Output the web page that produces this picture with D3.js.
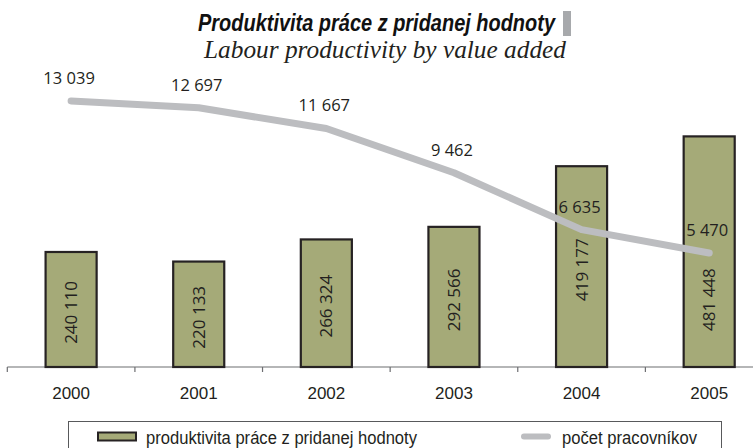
<!DOCTYPE html>
<html>
<head>
<meta charset="utf-8">
<script src="https://cdn.jsdelivr.net/npm/d3@7"></script>
<style>
  body { margin: 0; background: #fff; }
  svg { display: block; }
</style>
</head>
<body>
<svg id="chart" width="753" height="448"></svg>
<script>
const years = ["2000", "2001", "2002", "2003", "2004", "2005"];
const productivity = [240110, 220133, 266324, 292566, 419177, 481448];
const workers = [13039, 12697, 11667, 9462, 6635, 5470];

const titleText = "Produktivita práce z pridanej hodnoty";
const subtitleText = "Labour productivity by value added";
const legendBar = "produktivita práce z pridanej hodnoty";
const legendLine = "počet pracovníkov";

const width = 753;
const height = 448;
const baseline = 367;

const fmt = (v) => d3.format(",")(v).replace(/,/g, " ");

const svg = d3.select("#chart");

const x = d3.scaleBand()
  .domain(years)
  .range([7.3, 773])
  .paddingInner(0.6)
  .paddingOuter(0.3);

const y = d3.scaleLinear()
  .domain([0, 500000])
  .range([baseline, 127.5]);

const y2 = d3.scaleLinear()
  .domain([0, 18000])
  .range([363, 1.2]);

// title
svg.append("text")
  .attr("x", 198)
  .attr("y", 31)
  .attr("textLength", 357)
  .attr("lengthAdjust", "spacingAndGlyphs")
  .style("font-family", "Liberation Sans, Arial, sans-serif")
  .style("font-weight", "bold")
  .style("font-style", "italic")
  .style("font-size", "23px")
  .attr("fill", "#111")
  .text(titleText);

svg.append("rect")
  .attr("x", 563)
  .attr("y", 11)
  .attr("width", 8)
  .attr("height", 25)
  .attr("fill", "#a7a9ac");

svg.append("text")
  .attr("x", 204)
  .attr("y", 58)
  .attr("textLength", 362)
  .attr("lengthAdjust", "spacingAndGlyphs")
  .style("font-family", "Liberation Serif, Times New Roman, serif")
  .style("font-style", "italic")
  .style("font-size", "25px")
  .attr("fill", "#231f20")
  .text(subtitleText);

// x axis
const xAxis = (g) =>
  g.attr("transform", `translate(0,${baseline})`)
    .call(d3.axisBottom(x).tickSize(0).tickPadding(20))
    .call((g) => g.select(".domain").remove())
    .call((g) => g.selectAll(".tick text")
      .style("font-family", "Liberation Sans, Arial, sans-serif")
      .style("font-size", "17px")
      .attr("fill", "#231f20"));

svg.append("g").attr("class", "x-axis").call(xAxis);

svg.append("line")
  .attr("x1", 7.3).attr("x2", width)
  .attr("y1", baseline).attr("y2", baseline)
  .attr("stroke", "#6d6e71")
  .attr("stroke-width", 1.2);

svg.append("g")
  .selectAll("line")
  .data(years)
  .join("line")
  .attr("x1", (d) => x(d) + x.bandwidth() / 2 - x.step() / 2)
  .attr("x2", (d) => x(d) + x.bandwidth() / 2 - x.step() / 2)
  .attr("y1", baseline)
  .attr("y2", baseline + 5)
  .attr("stroke", "#6d6e71")
  .attr("stroke-width", 1.2);

// bars
const bars = years.map((d, i) => ({ year: d, value: productivity[i], workers: workers[i] }));

svg.append("g")
  .selectAll("rect")
  .data(bars)
  .join("rect")
  .attr("x", (d) => x(d.year))
  .attr("width", x.bandwidth())
  .attr("y", (d) => y(d.value))
  .attr("height", (d) => y(0) - y(d.value))
  .attr("fill", "#a5aa78")
  .attr("stroke", "#262223")
  .attr("stroke-width", 2.2);

// line
const line = d3.line()
  .x((d) => x(d.year) + x.bandwidth() / 2)
  .y((d) => y2(d.workers));

svg.append("path")
  .datum(bars)
  .attr("d", line)
  .attr("fill", "none")
  .attr("stroke", "#bcbdc0")
  .attr("stroke-width", 7)
  .attr("stroke-linecap", "round")
  .attr("stroke-linejoin", "round");

// bar labels, rotated; pushed below the line when they would cross it
const labelHalf = 31.5;
svg.append("g")
  .selectAll("text")
  .data(bars)
  .join("text")
  .attr("transform", (d) => {
    const cx = x(d.year) + x.bandwidth() / 2;
    let cy = (y(d.value) + y(0)) / 2 + 3;
    const ly = y2(d.workers);
    if (cy - labelHalf < ly + 4) cy = ly + 15 + labelHalf;
    return `translate(${cx},${cy}) rotate(-90)`;
  })
  .attr("text-anchor", "middle")
  .attr("dy", "0.36em")
  .style("font-family", "Open Sans, sans-serif")
  .style("font-size", "17px")
  .attr("fill", "#231f20")
  .text((d) => fmt(d.value));

// line labels
svg.append("g")
  .selectAll("text")
  .data(bars)
  .join("text")
  .attr("x", (d) => x(d.year) + x.bandwidth() / 2 - 2)
  .attr("y", (d) => y2(d.workers) - 17)
  .attr("text-anchor", "middle")
  .style("font-family", "Open Sans, sans-serif")
  .style("font-size", "16.5px")
  .attr("fill", "#231f20")
  .text((d) => fmt(d.workers));

// legend
const legend = svg.append("g").attr("class", "legend");

legend.append("rect")
  .attr("x", 68.5)
  .attr("y", 421.5)
  .attr("width", 653)
  .attr("height", 40)
  .attr("fill", "none")
  .attr("stroke", "#58595b")
  .attr("stroke-width", 1);

legend.append("rect")
  .attr("x", 98)
  .attr("y", 432.5)
  .attr("width", 38)
  .attr("height", 8)
  .attr("fill", "#a5aa78")
  .attr("stroke", "#262223")
  .attr("stroke-width", 2);

legend.append("text")
  .attr("x", 146)
  .attr("y", 443.5)
  .attr("textLength", 271)
  .attr("lengthAdjust", "spacingAndGlyphs")
  .style("font-family", "Liberation Sans, Arial, sans-serif")
  .style("font-size", "17.5px")
  .attr("fill", "#231f20")
  .text(legendBar);

legend.append("line")
  .attr("x1", 524).attr("x2", 548)
  .attr("y1", 436.5).attr("y2", 436.5)
  .attr("stroke", "#bcbdc0")
  .attr("stroke-width", 6)
  .attr("stroke-linecap", "round");

legend.append("text")
  .attr("x", 562)
  .attr("y", 443.5)
  .attr("textLength", 135)
  .attr("lengthAdjust", "spacingAndGlyphs")
  .style("font-family", "Liberation Sans, Arial, sans-serif")
  .style("font-size", "17.5px")
  .attr("fill", "#231f20")
  .text(legendLine);
</script>
</body>
</html>
